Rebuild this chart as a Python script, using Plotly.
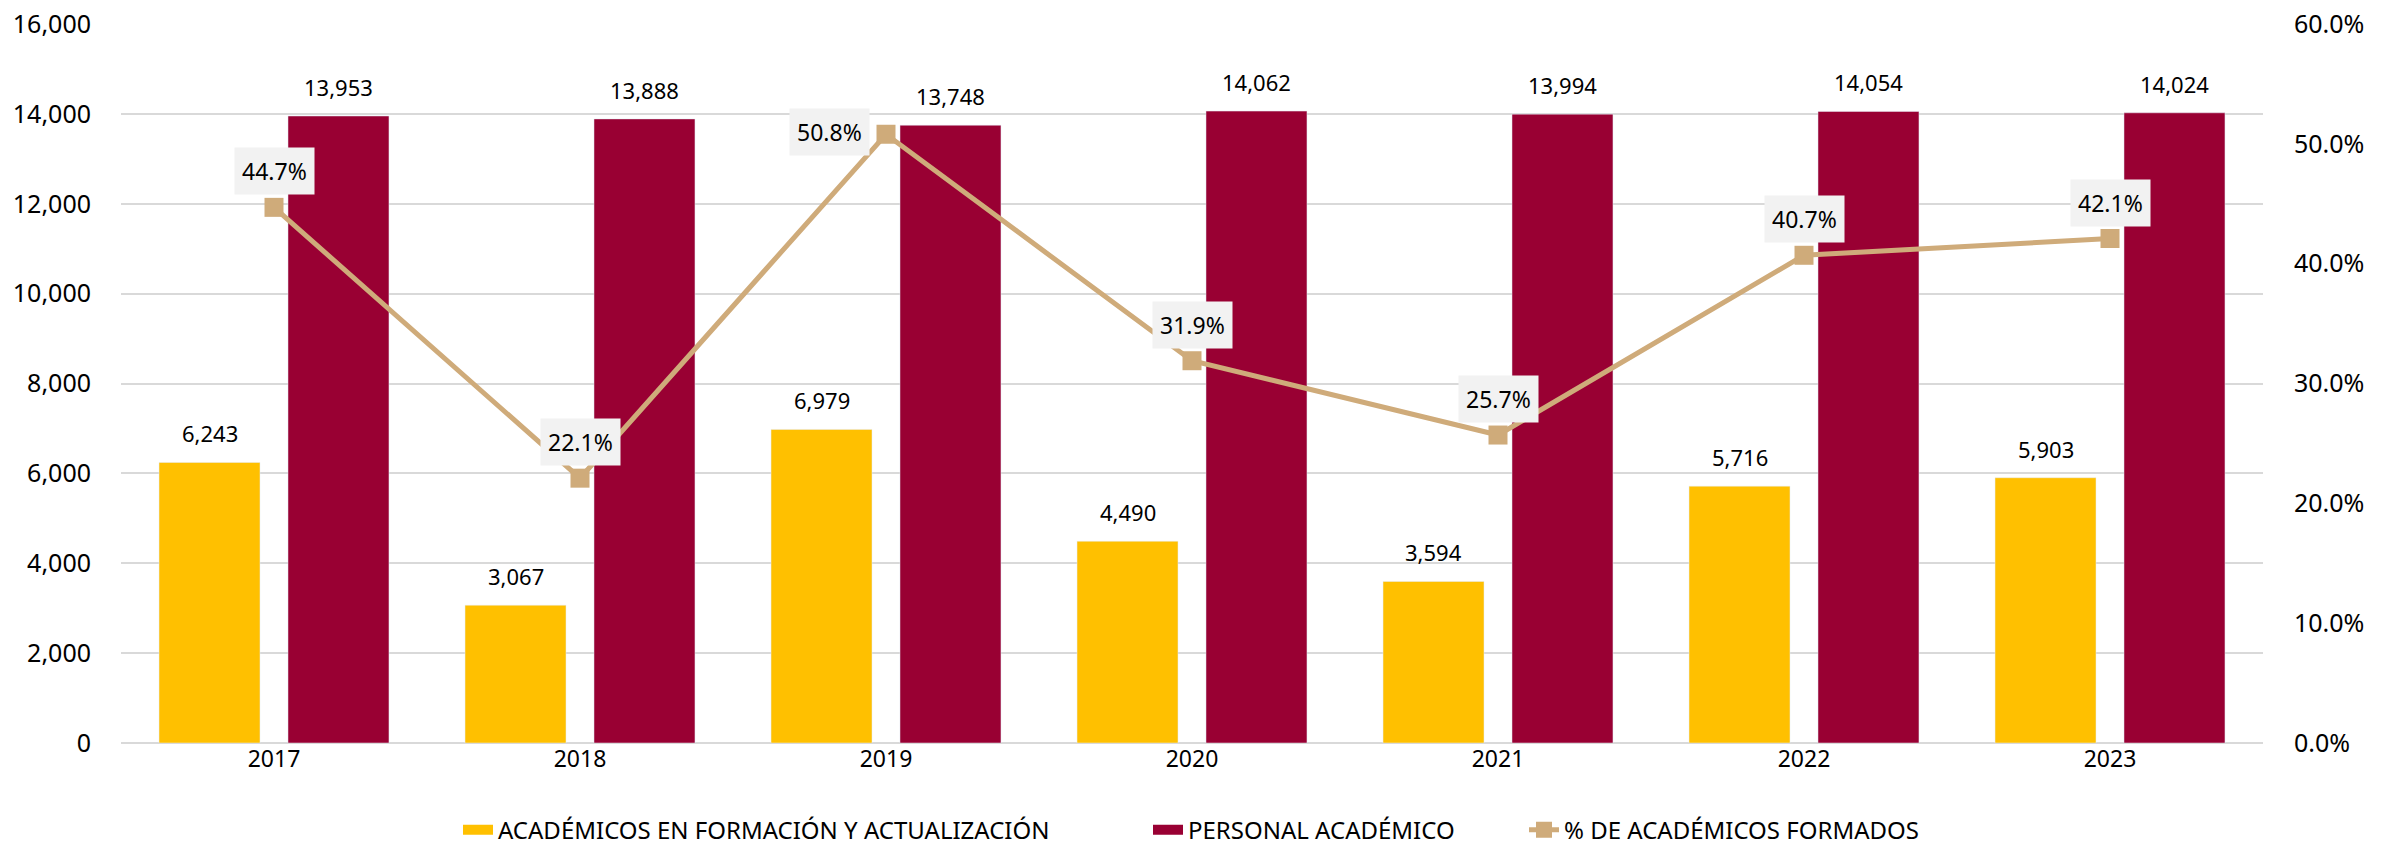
import plotly.graph_objects as go

years = ["2017", "2018", "2019", "2020", "2021", "2022", "2023"]
en_formacion = [6243, 3067, 6979, 4490, 3594, 5716, 5903]
personal = [13953, 13888, 13748, 14062, 13994, 14054, 14024]
pct_formados = [0.447, 0.221, 0.508, 0.319, 0.257, 0.407, 0.421]

FONT = "Noto Sans"
GOLD = "#FFC000"
MAROON = "#990033"
TAN = "#CFAB7A"

# la página tiene 8px de margen en body, se compensa aquí
W, H = 2385, 839
ML, MR, MT, MB = 113, 130, 16, 104
BARGAP = 0.157

fig = go.Figure()

fig.add_trace(go.Bar(
    x=years, y=en_formacion,
    name="ACADÉMICOS EN FORMACIÓN Y ACTUALIZACIÓN",
    marker_color=GOLD,
    showlegend=False,
))

fig.add_trace(go.Bar(
    x=years, y=personal,
    name="PERSONAL ACADÉMICO",
    marker_color=MAROON,
    showlegend=False,
))

fig.add_trace(go.Scatter(
    x=years, y=pct_formados,
    name="% DE ACADÉMICOS FORMADOS",
    mode="lines+markers",
    line=dict(color=TAN, width=5),
    marker=dict(symbol="square", size=19, color=TAN),
    yaxis="y2",
    cliponaxis=False,
    legend="legend3",
))

# entradas de leyenda con rectángulo ancho (como en Excel)
fig.add_trace(go.Scatter(
    x=[None], y=[None], mode="lines",
    name="ACADÉMICOS EN FORMACIÓN Y ACTUALIZACIÓN",
    line=dict(color=GOLD, width=15), legend="legend",
))
fig.add_trace(go.Scatter(
    x=[None], y=[None], mode="lines",
    name="PERSONAL ACADÉMICO",
    line=dict(color=MAROON, width=15), legend="legend2",
))

# etiquetas de valor sobre las barras (desplazadas al centro de cada barra del grupo)
cat_px = (W - ML - MR) / len(years)
half = cat_px * (1 - BARGAP) / 4
for i, (a, b) in enumerate(zip(en_formacion, personal)):
    for val, dx in ((a, -half), (b, half)):
        fig.add_annotation(
            x=i, y=val, xref="x", yref="y",
            text=f"{val:,}",
            showarrow=False,
            xshift=dx, yanchor="bottom", yshift=12,
            font=dict(family=FONT, size=22, color="#000000"),
        )

# etiquetas de porcentaje con fondo gris (2019 va a la izquierda del punto)
for i, p in enumerate(pct_formados):
    if years[i] == "2019":
        pos = dict(xanchor="right", xshift=-16, yanchor="middle", yshift=2)
    else:
        pos = dict(xanchor="center", yanchor="bottom", yshift=12)
    fig.add_annotation(
        x=i, y=p, xref="x", yref="y2",
        text=f"{p * 100:.1f}%",
        showarrow=False,
        bgcolor="#F2F2F2",
        borderpad=7,
        font=dict(family=FONT, size=23, color="#000000"),
        **pos,
    )

leg = dict(
    orientation="h",
    xref="container", yref="container",
    xanchor="left", y=0.02, yanchor="middle",
    font=dict(size=24),
    itemwidth=30,
    bgcolor="rgba(0,0,0,0)",
)

fig.update_layout(
    width=W, height=H,
    margin=dict(l=ML, r=MR, t=MT, b=MB),
    plot_bgcolor="white",
    paper_bgcolor="white",
    font=dict(family=FONT, size=22, color="#000000"),
    barmode="group",
    bargap=BARGAP,
    bargroupgap=0.217,
    xaxis=dict(
        type="category",
        range=[-0.5, len(years) - 0.5],
        showgrid=False,
        ticks="",
        tickfont=dict(size=23),
        automargin=False,
    ),
    yaxis=dict(
        range=[0, 16000],
        dtick=2000,
        tickformat=",d",
        showgrid=True,
        gridcolor="#D9D9D9",
        gridwidth=2,
        zeroline=True,
        zerolinecolor="#D9D9D9",
        zerolinewidth=2,
        tickfont=dict(size=25),
        ticklabelstandoff=29,
        ticklabeloverflow="allow",
        automargin=False,
    ),
    yaxis2=dict(
        overlaying="y",
        side="right",
        range=[0, 0.6],
        dtick=0.1,
        tickformat=".1%",
        showgrid=False,
        zeroline=False,
        tickfont=dict(size=25),
        ticklabelstandoff=30,
        ticklabeloverflow="allow",
        automargin=False,
    ),
    legend=dict(leg, x=450 / W),
    legend2=dict(leg, x=1140 / W),
    legend3=dict(leg, x=1516 / W),
)

fig.write_html("out.html")
